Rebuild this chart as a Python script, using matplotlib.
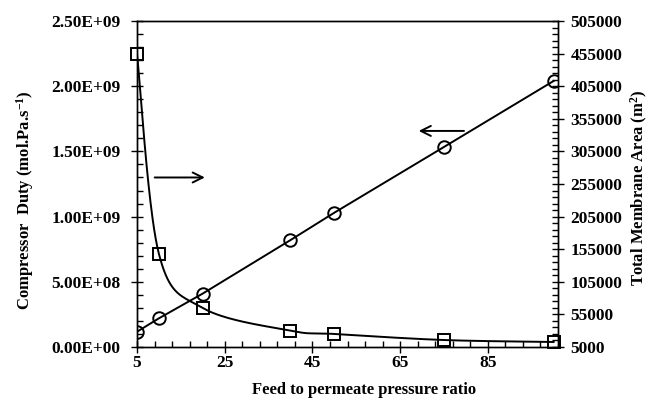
import matplotlib
matplotlib.use("Agg")
import matplotlib.pyplot as plt
import numpy as np
from matplotlib.ticker import FixedLocator, FuncFormatter

# feed to permeate pressure ratio
ratio = [5, 10, 20, 40, 50, 75, 100]
# compressor duty, mol.Pa/s (left axis, circles)
duty = [1.17e8, 2.2e8, 4.1e8, 8.2e8, 1.03e9, 1.534e9, 2.04e9]
# total membrane area, m2 (right axis, squares)
area = [454500, 147700, 64800, 30000, 25000, 15700, 12700]

left_ticks = [0, 5e8, 1e9, 1.5e9, 2e9, 2.5e9]
right_ticks = [5000, 55000, 105000, 155000, 205000, 255000, 305000,
               355000, 405000, 455000, 505000]
x_ticks = [5, 25, 45, 65, 85]

plt.rcParams['font.family'] = ['Liberation Serif', 'DejaVu Serif']
plt.rcParams['font.weight'] = 'bold'
plt.rcParams['mathtext.fontset'] = 'custom'
plt.rcParams['mathtext.rm'] = 'Liberation Serif:bold'
plt.rcParams['mathtext.bf'] = 'Liberation Serif:bold'
plt.rcParams['mathtext.it'] = 'Liberation Serif:bold'


def smooth(xs, ys, xr, yr, n=40):
    # bezier smoothing through the points, done in axis-normalised space
    px = (np.asarray(xs, float) - xr[0]) / (xr[1] - xr[0])
    py = (np.asarray(ys, float) - yr[0]) / (yr[1] - yr[0])
    P = np.column_stack([px, py])
    P = np.vstack([P[0], P, P[-1]])
    out = []
    t = np.linspace(0, 1, n)[:, None]
    for i in range(1, len(P) - 2):
        p0, p1, p2, p3 = P[i - 1], P[i], P[i + 1], P[i + 2]
        b1 = p1 + (p2 - p0) / 6.0
        b2 = p2 - (p3 - p1) / 6.0
        seg = ((1 - t) ** 3) * p1 + 3 * ((1 - t) ** 2) * t * b1 \
            + 3 * (1 - t) * t ** 2 * b2 + t ** 3 * p2
        out.append(seg)
    out = np.vstack(out)
    return (out[:, 0] * (xr[1] - xr[0]) + xr[0],
            out[:, 1] * (yr[1] - yr[0]) + yr[0])


xlim = (5, 101)
ylim_l = (0, 2.5e9)
ylim_r = (5000, 505000)

fig = plt.figure(figsize=(6.51, 4.03), dpi=100)
ax = fig.add_axes([137 / 651, 56 / 403, 421 / 651, 326 / 403])
ax2 = ax.twinx()

ax.plot(ratio, duty, color='black', lw=1.4, marker='o', ms=9,
        mfc='none', mec='black', mew=1.4, zorder=3)

sx, sy = smooth(ratio, area, xlim, ylim_r)
ax2.plot(sx, sy, color='black', lw=1.4, zorder=3)
ax2.plot(ratio, area, ls='none', marker='s', ms=8, mfc='none',
         mec='black', mew=1.4, zorder=4, clip_on=False)

ax.set_xlim(*xlim)
ax.set_ylim(*ylim_l)
ax2.set_ylim(*ylim_r)

ax.set_xticks(x_ticks)
ax.xaxis.set_minor_locator(FixedLocator(np.arange(5, 101, 4)))
ax.set_yticks(left_ticks)
ax.yaxis.set_minor_locator(FixedLocator(np.arange(0, 2.5e9 + 1, 1e8)))
ax.yaxis.set_major_formatter(FuncFormatter(lambda v, p: '{:.2E}'.format(v)))
ax2.set_yticks(right_ticks)
ax2.yaxis.set_minor_locator(FixedLocator(np.arange(5000, 505001, 10000)))

ax.tick_params(axis='x', which='major', direction='inout', length=8,
               width=1, labelsize=12.5, pad=2, top=False)
ax.tick_params(axis='x', which='minor', direction='in', length=4,
               width=1, top=False)
ax.tick_params(axis='y', which='major', direction='inout', length=8,
               width=1, labelsize=12.5, pad=8)
ax.tick_params(axis='y', which='minor', direction='in', length=4, width=1)
ax2.tick_params(axis='y', which='major', direction='inout', length=8,
                width=1, labelsize=12.5, pad=5)
ax2.tick_params(axis='y', which='minor', direction='in', length=4, width=1)

for a in (ax, ax2):
    for s in a.spines.values():
        s.set_linewidth(1)

ax.set_xlabel('Feed to permeate pressure ratio', fontsize=12,
              fontweight='bold', va='center')
ax.xaxis.set_label_coords(0.539, -0.132)
ax.set_ylabel('Compressor  Duty (mol.Pa.s$^{-1}$)', fontsize=12,
              fontweight='bold', va='center')
ax.yaxis.set_label_coords(-0.266, 0.451)
ax2.set_ylabel('Total Membrane Area (m$^{2}$)', fontsize=12,
               fontweight='bold', va='center')
ax2.yaxis.set_label_coords(1.193, 0.49)

# arrows pointing to the axis each curve belongs to
ax.annotate('', xy=(21.1, 1.30e9), xytext=(8.4, 1.30e9),
            arrowprops=dict(arrowstyle='->', color='black', lw=1.4,
                            mutation_scale=18))
ax.annotate('', xy=(68.6, 1.657e9), xytext=(80.2, 1.657e9),
            arrowprops=dict(arrowstyle='->', color='black', lw=1.4,
                            mutation_scale=18))

fig.savefig('out.png', dpi=100)
